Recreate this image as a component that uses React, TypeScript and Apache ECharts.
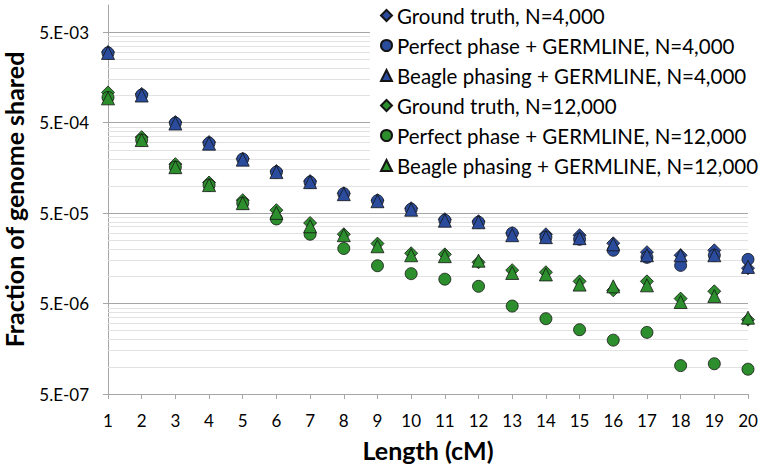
import React, { useEffect, useRef } from "react";
import * as echarts from "echarts";

// Length bins (cM)
const lengths = [1, 2, 3, 4, 5, 6, 7, 8, 9, 10, 11, 12, 13, 14, 15, 16, 17, 18, 19, 20];

// Fraction of genome shared
const groundTruth4k = [3.02e-3, 1.04e-3, 5.08e-4, 3.05e-4, 2.0e-4, 1.46e-4, 1.13e-4, 8.3e-5, 6.95e-5, 5.67e-5, 4.28e-5, 4.07e-5, 3.0e-5, 2.92e-5, 2.85e-5, 2.32e-5, 1.85e-5, 1.71e-5, 1.94e-5, 1.23e-5];
const perfect4k = [2.95e-3, 1.01e-3, 4.95e-4, 2.97e-4, 1.98e-4, 1.42e-4, 1.1e-4, 8.2e-5, 6.86e-5, 5.52e-5, 4.17e-5, 3.96e-5, 3.0e-5, 2.71e-5, 2.57e-5, 1.94e-5, 1.62e-5, 1.32e-5, 1.71e-5, 1.54e-5];
const beagle4k = [2.95e-3, 9.98e-4, 4.89e-4, 2.93e-4, 1.95e-4, 1.42e-4, 1.1e-4, 8.1e-5, 6.77e-5, 5.45e-5, 4.12e-5, 3.96e-5, 2.85e-5, 2.71e-5, 2.64e-5, 2.26e-5, 1.71e-5, 1.71e-5, 1.71e-5, 1.27e-5];
const groundTruth12k = [1.08e-3, 3.46e-4, 1.74e-4, 1.09e-4, 6.95e-5, 5.39e-5, 3.89e-5, 2.92e-5, 2.3e-5, 1.8e-5, 1.75e-5, 1.43e-5, 1.17e-5, 1.11e-5, 8.8e-6, 7.0e-6, 8.8e-6, 5.67e-6, 6.83e-6, 3.32e-6];
const perfect12k = [9.5e-4, 3.21e-4, 1.61e-4, 1.02e-4, 6.44e-5, 4.31e-5, 2.92e-5, 2.03e-5, 1.31e-5, 1.07e-5, 9.3e-6, 7.75e-6, 4.69e-6, 3.4e-6, 2.57e-6, 1.97e-6, 2.4e-6, 1.03e-6, 1.08e-6, 9.4e-7];
const beagle12k = [9.29e-4, 3.21e-4, 1.61e-4, 1.02e-4, 6.44e-5, 5.03e-5, 3.58e-5, 2.85e-5, 2.15e-5, 1.71e-5, 1.67e-5, 1.49e-5, 1.09e-5, 1.05e-5, 8.1e-6, 7.75e-6, 7.95e-6, 5.2e-6, 6.05e-6, 3.49e-6];

const seriesNames = [
  "Ground truth, N=4,000",
  "Perfect phase + GERMLINE, N=4,000",
  "Beagle phasing + GERMLINE, N=4,000",
  "Ground truth, N=12,000",
  "Perfect phase + GERMLINE, N=12,000",
  "Beagle phasing + GERMLINE, N=12,000",
];

// Tick labels of the logarithmic y axis (one per decade, starting at the minimum)
const yTickLabels = ["5.E-07", "5.E-06", "5.E-05", "5.E-04", "5.E-03"];
const yMin = 5e-7;
const yMax = 1e-2;
const minorMultipliers = [2, 3, 4, 5, 6, 7, 8, 9];

const BLUE = "#2B4C9C";
const GREEN = "#2C8E2C";
const FONT = "Lato, 'Open Sans', sans-serif";

const toAxis = (v: number) => Math.log10(v / yMin);

export default function App() {
  const ref = useRef<HTMLDivElement>(null);

  useEffect(() => {
    if (!ref.current) return;
    const chart = echarts.init(ref.current, null, { renderer: "svg" });

    const seriesValues = [groundTruth4k, perfect4k, beagle4k, groundTruth12k, perfect12k, beagle12k];
    const symbols = ["diamond", "circle", "triangle", "diamond", "circle", "triangle"];
    const sizes = [13, 12, 13, 13, 12, 13];
    const colors = [BLUE, BLUE, BLUE, GREEN, GREEN, GREEN];

    const yAxisMax = Math.log10(yMax / yMin);
    const minorPositions: number[] = [];
    for (let d = 0; d < yTickLabels.length - 1; d++) {
      minorMultipliers.forEach((k) => minorPositions.push(d + Math.log10(k)));
    }

    const scatterSeries = seriesValues.map((vals, i) => ({
      name: seriesNames[i],
      type: "scatter",
      symbol: symbols[i],
      symbolSize: sizes[i],
      data: lengths.map((x, j) => ({
        value: [x, toAxis(vals[j])],
        itemStyle: { opacity: 1 },
      })),
      itemStyle: { color: colors[i], borderColor: "#141414", borderWidth: 0.8, opacity: 1 },
      emphasis: { disabled: true },
      z: 2,
    }));

    chart.setOption({
      animation: false,
      backgroundColor: "#ffffff",
      grid: { left: 108, right: 16, top: 5, bottom: 75, containLabel: false, outerBoundsMode: "none" },
      legend: {
        orient: "vertical",
        left: 370,
        top: 0,
        padding: [5, 10, 5, 10],
        itemGap: 9,
        itemWidth: 11,
        itemHeight: 11,
        selectedMode: false,
        data: seriesNames,
        itemStyle: { opacity: 1 },
        textStyle: { fontFamily: FONT, fontSize: 20.5, color: "#000", lineHeight: 20 },
        z: 5,
      },
      graphic: [
        {
          type: "rect",
          silent: true,
          z: 4,
          shape: { x: 370, y: 0, width: 394, height: 183 },
          style: { fill: "#ffffff" },
        },
      ],
      xAxis: {
        type: "value",
        min: 1,
        max: 20,
        interval: 1,
        name: "Length (cM)",
        nameLocation: "middle",
        nameGap: 43,
        nameTextStyle: { fontFamily: FONT, fontWeight: "bold", fontSize: 25, color: "#000", lineHeight: 26 },
        axisLine: { show: true, lineStyle: { color: "#a6a6a6", width: 1 } },
        axisTick: { show: true, length: 5, lineStyle: { color: "#a6a6a6" } },
        axisLabel: { fontFamily: FONT, fontSize: 17, color: "#000", margin: 18 },
        splitLine: { show: false },
      },
      yAxis: {
        type: "value",
        min: 0,
        max: yAxisMax,
        interval: 1,
        name: "Fraction of genome shared",
        nameLocation: "middle",
        nameGap: 82,
        nameTextStyle: { fontFamily: FONT, fontWeight: "bold", fontSize: 25, color: "#000", lineHeight: 25 },
        axisLine: { show: true, lineStyle: { color: "#a6a6a6", width: 1 } },
        axisTick: {
          show: true,
          length: 5,
          lineStyle: { color: "#a6a6a6" },
          customValues: yTickLabels.map((_, i) => i),
        },
        axisLabel: {
          fontFamily: FONT,
          fontSize: 17,
          color: "#000",
          margin: 19,
          customValues: yTickLabels.map((_, i) => i),
          formatter: (v: number) => {
            const i = Math.round(v);
            return Math.abs(v - i) < 1e-6 && i >= 0 && i < yTickLabels.length ? yTickLabels[i] : "";
          },
        },
        splitLine: {
          show: true,
          lineStyle: {
            color: ["#a6a6a6", "#a6a6a6", "#a6a6a6", "#a6a6a6", "#a6a6a6", "rgba(0,0,0,0)"],
            width: 1,
          },
        },
      },
      series: [
        {
          name: "minor-grid",
          type: "scatter",
          data: [],
          silent: true,
          z: 1,
          markLine: {
            silent: true,
            z: 1,
            symbol: ["none", "none"],
            label: { show: false },
            lineStyle: { color: "#e2e2e2", width: 1, type: "solid" },
            emphasis: { disabled: true },
            data: minorPositions.map((p) => ({ yAxis: p })),
          },
        },
        ...scatterSeries,
      ],
    });

    return () => chart.dispose();
  }, []);

  return (
    <div
      ref={ref}
      style={{ position: "fixed", left: 0, top: 0, width: 764, height: 469 }}
    />
  );
}
